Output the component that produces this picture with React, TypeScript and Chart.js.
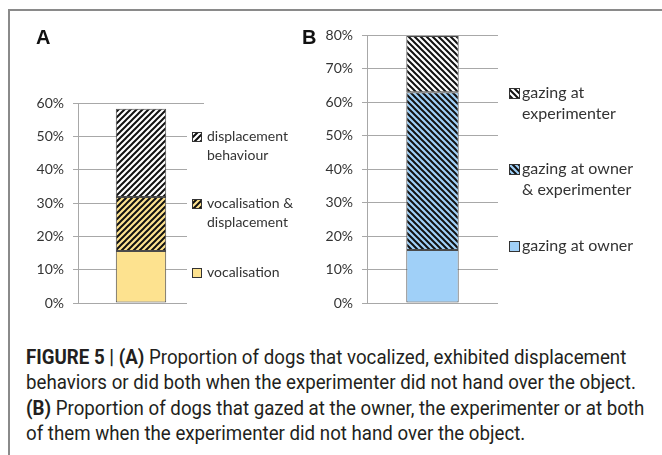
import React, { useEffect, useRef } from "react";
import { Chart, registerables } from "chart.js";

Chart.register(...registerables);

// ---------- DATA ----------
const categories = [""];

const aTickLabels = ["0%", "10%", "20%", "30%", "40%", "50%", "60%"];
const aVocalisation = [15.6];
const aVocalDisplacement = [16.2];
const aDisplacement = [26.5];
const aLegend = [["vocalisation"], ["vocalisation &", "displacement"], ["displacement", "behaviour"]];

const bTickLabels = ["0%", "10%", "20%", "30%", "40%", "50%", "60%", "70%", "80%"];
const bOwner = [15.8];
const bOwnerExperimenter = [47.1];
const bExperimenter = [16.8];
const bLegend = [["gazing at owner"], ["gazing at owner", "& experimenter"], ["gazing at", "experimenter"]];

// ---------- STYLE ----------
const YELLOW = "#fde28f";
const BLUE = "#a0d0f8";
const WHITE = "#ffffff";
const GRID = "#a8a8a8";
const TEXT = "#333333";
const BAR_BORDER = "#4a4a4a";

function makePattern(base: string, dir: "up" | "down", size = 6, lw = 2) {
  const c = document.createElement("canvas");
  c.width = size;
  c.height = size;
  const g = c.getContext("2d")!;
  g.fillStyle = base;
  g.fillRect(0, 0, size, size);
  g.strokeStyle = "#111";
  g.lineWidth = lw;
  g.beginPath();
  if (dir === "up") {
    g.moveTo(0, size); g.lineTo(size, 0);
    g.moveTo(-size / 2, size / 2); g.lineTo(size / 2, -size / 2);
    g.moveTo(size / 2, size * 1.5); g.lineTo(size * 1.5, size / 2);
  } else {
    g.moveTo(0, 0); g.lineTo(size, size);
    g.moveTo(-size / 2, size / 2); g.lineTo(size / 2, size * 1.5);
    g.moveTo(size / 2, -size / 2); g.lineTo(size * 1.5, size / 2);
  }
  g.stroke();
  return g.createPattern(c, "repeat")!;
}

const sideLegend = {
  id: "sideLegend",
  afterDraw(chart: any, _args: any, opts: any) {
    const ctx = chart.ctx as CanvasRenderingContext2D;
    ctx.save();
    if (opts.mask) {
      ctx.fillStyle = "#ffffff";
      ctx.fillRect(opts.mask[0], opts.mask[1], opts.mask[2], opts.mask[3]);
    }
    ctx.font = `${opts.size}px Lato`;
    ctx.textBaseline = "middle";
    ctx.textAlign = "left";
    opts.entries.forEach((e: any) => {
      const ds = chart.data.datasets[e.index];
      const b = opts.box;
      const by = Math.round(e.y - b / 2) + 0.5;
      ctx.fillStyle = ds.backgroundColor;
      ctx.fillRect(opts.x + 0.5, by, b, b);
      ctx.strokeStyle = "#333";
      ctx.lineWidth = 1;
      ctx.strokeRect(opts.x + 0.5, by, b, b);
      ctx.fillStyle = TEXT;
      e.lines.forEach((t: string, j: number) => {
        ctx.fillText(t, opts.textX, e.y + j * opts.lineH);
      });
    });
    ctx.restore();
  },
};

function barDs(label: string, data: number[], bg: any) {
  return {
    label,
    data,
    backgroundColor: bg,
    borderColor: BAR_BORDER,
    borderWidth: 1,
    borderSkipped: false,
    categoryPercentage: 1,
    barPercentage: 0.4,
  };
}

function yScale(max: number, ticks: string[], width: number) {
  return {
    stacked: true,
    min: 0,
    max,
    ticks: {
      stepSize: 10,
      padding: 9,
      color: TEXT,
      font: { family: "Lato", size: 14 },
      callback: (_v: any, i: number) => ticks[i],
    },
    grid: { color: GRID, tickLength: 5, lineWidth: 1 },
    border: { color: GRID, width: 1 },
    afterFit: (s: any) => {
      s.width = width;
    },
  };
}

function PanelA() {
  const ref = useRef<HTMLCanvasElement>(null);
  useEffect(() => {
    const chart = new Chart(ref.current!, {
      type: "bar",
      data: {
        labels: categories,
        datasets: [
          barDs(aLegend[0].join(" "), aVocalisation, YELLOW),
          barDs(aLegend[1].join(" "), aVocalDisplacement, makePattern(YELLOW, "up")),
          barDs(aLegend[2].join(" "), aDisplacement, makePattern(WHITE, "up")),
        ],
      },
      options: {
        animation: false,
        responsive: false,
        maintainAspectRatio: false,
        layout: { padding: { left: 0, right: 127, top: 103, bottom: 27 } },
        plugins: {
          legend: { display: false },
          tooltip: { enabled: false },
          sideLegend: {
            mask: [187, 112, 140, 200],
            x: 192,
            textX: 207,
            box: 9,
            size: 14,
            lineH: 19.5,
            entries: [
              { index: 2, y: 136, lines: aLegend[2] },
              { index: 1, y: 203, lines: aLegend[1] },
              { index: 0, y: 272, lines: aLegend[0] },
            ],
          },
        } as any,
        scales: {
          x: { stacked: true, display: false },
          y: yScale(60, aTickLabels, 78) as any,
        },
      },
      plugins: [sideLegend],
    });
    return () => chart.destroy();
  }, []);
  return (
    <canvas
      ref={ref}
      width={331}
      height={330}
      style={{ position: "absolute", left: 0, top: 0, width: 331, height: 330 }}
    />
  );
}

function PanelB() {
  const ref = useRef<HTMLCanvasElement>(null);
  useEffect(() => {
    const chart = new Chart(ref.current!, {
      type: "bar",
      data: {
        labels: categories,
        datasets: [
          barDs(bLegend[0].join(" "), bOwner, BLUE),
          barDs(bLegend[1].join(" "), bOwnerExperimenter, makePattern(BLUE, "down")),
          barDs(bLegend[2].join(" "), bExperimenter, makePattern(WHITE, "down")),
        ],
      },
      options: {
        animation: false,
        responsive: false,
        maintainAspectRatio: false,
        layout: { padding: { left: 0, right: 164, top: 35, bottom: 27 } },
        plugins: {
          legend: { display: false },
          tooltip: { enabled: false },
          sideLegend: {
            x: 209,
            textX: 222,
            box: 10,
            size: 16,
            lineH: 21,
            entries: [
              { index: 2, y: 93, lines: bLegend[2] },
              { index: 1, y: 169, lines: bLegend[1] },
              { index: 0, y: 246, lines: bLegend[0] },
            ],
          },
        } as any,
        scales: {
          x: { stacked: true, display: false },
          y: yScale(80, bTickLabels, 67) as any,
        },
      },
      plugins: [sideLegend],
    });
    return () => chart.destroy();
  }, []);
  return (
    <canvas
      ref={ref}
      width={362}
      height={330}
      style={{ position: "absolute", left: 300, top: 0, width: 362, height: 330 }}
    />
  );
}

const capFont = "Roboto, 'Liberation Sans', sans-serif";

export default function App() {
  const line = (top: number): React.CSSProperties => ({
    position: "absolute",
    left: 26,
    top,
    whiteSpace: "nowrap",
    fontFamily: capFont,
    fontSize: 20,
    lineHeight: "25px",
    color: "#231f20",
    transform: "scaleX(0.935)",
    transformOrigin: "0 0",
  });
  const header: React.CSSProperties = {
    position: "absolute",
    top: 27,
    fontFamily: "'Liberation Sans', Arial, sans-serif",
    fontWeight: 700,
    fontSize: 20,
    lineHeight: "20px",
    color: "#111",
  };
  return (
    <div style={{ position: "fixed", inset: 0, overflow: "hidden", background: "#fff" }}>
      <div
        style={{
          position: "absolute",
          left: 8,
          top: 9,
          width: 700,
          height: 500,
          borderTop: "2px solid #8a8a8a",
          borderLeft: "2px solid #8a8a8a",
          boxSizing: "border-box",
        }}
      />
      <PanelA />
      <PanelB />
      <div style={{ ...header, left: 36 }}>A</div>
      <div style={{ ...header, left: 302 }}>B</div>
      <div style={line(345)}>
        <b>FIGURE 5 | (A)</b> Proportion of dogs that vocalized, exhibited displacement
      </div>
      <div style={line(370)}>
        behaviors or did both when the experimenter did not hand over the object.
      </div>
      <div style={line(395.5)}>
        <b>(B)</b> Proportion of dogs that gazed at the owner, the experimenter or at both
      </div>
      <div style={line(420.5)}>of them when the experimenter did not hand over the object.</div>
    </div>
  );
}
